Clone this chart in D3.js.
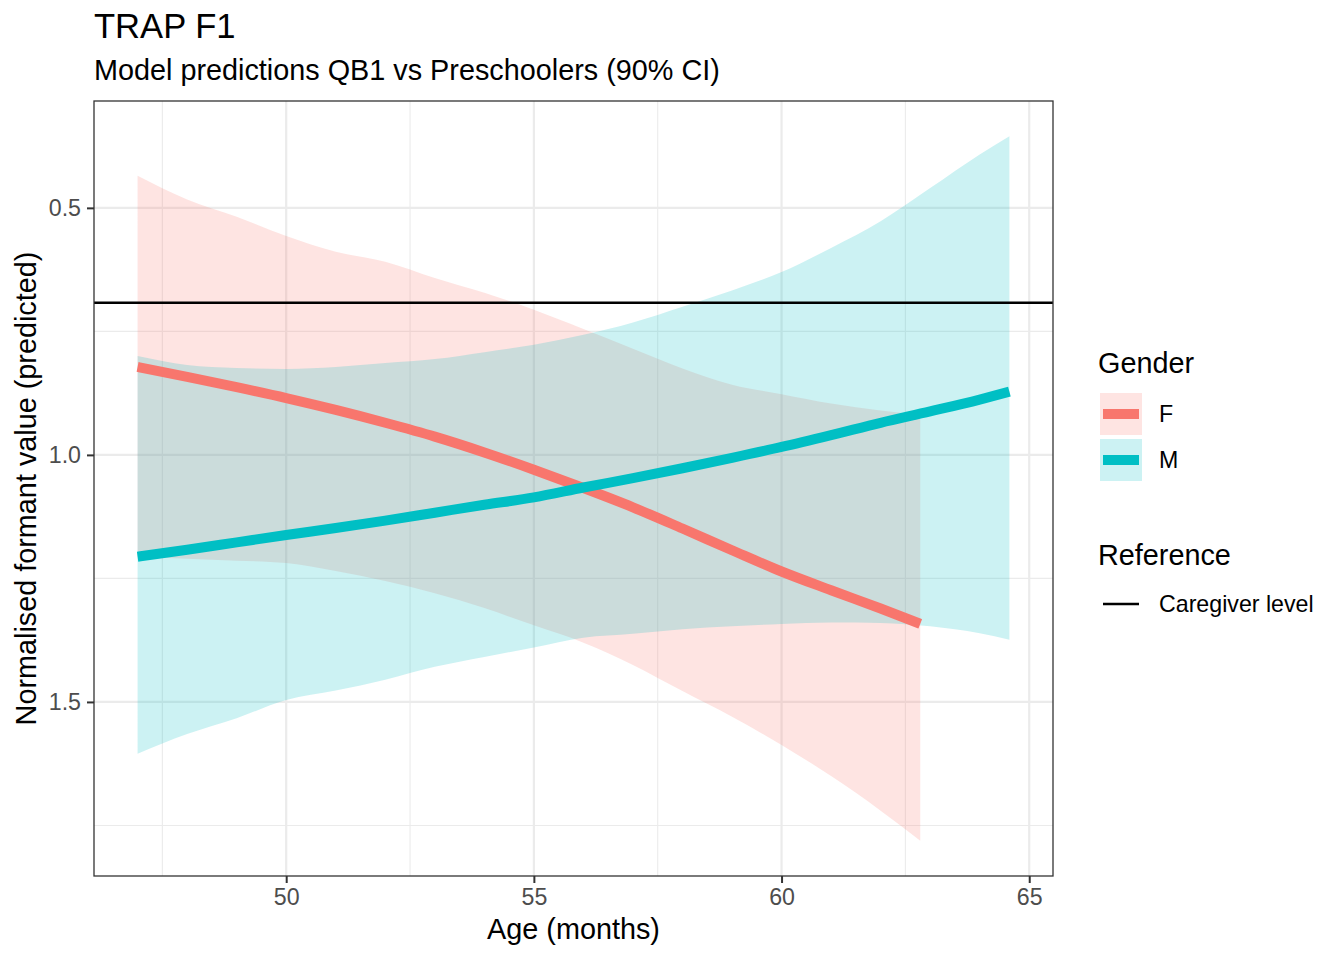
<!DOCTYPE html>
<html>
<head>
<meta charset="utf-8">
<script src="https://cdn.jsdelivr.net/npm/d3@7"></script>
<style>
  body { margin: 0; background: #fff; }
  text { font-family: "Liberation Sans", Arial, sans-serif; }
</style>
</head>
<body>
<script>
// values
const ageF  = [47, 48, 49, 50, 51, 52, 53, 54, 55, 56, 57, 58, 59, 60, 61, 62, 62.8]
const fitF  = [0.822, 0.842, 0.863, 0.885, 0.909, 0.935, 0.963, 0.995, 1.03, 1.067, 1.106, 1.149, 1.193, 1.236, 1.274, 1.311, 1.342]
const lowF  = [0.435, 0.483, 0.518, 0.557, 0.589, 0.609, 0.642, 0.672, 0.706, 0.745, 0.785, 0.825, 0.858, 0.877, 0.896, 0.91, 0.919]
const highF = [1.206, 1.21, 1.214, 1.219, 1.235, 1.255, 1.28, 1.31, 1.345, 1.38, 1.425, 1.478, 1.53, 1.587, 1.65, 1.72, 1.781]

const ageM  = [47, 48, 49, 50, 51, 52, 53, 54, 55, 56, 57, 58, 59, 60, 61, 62, 63, 64, 64.6]
const fitM  = [1.206, 1.192, 1.177, 1.162, 1.148, 1.133, 1.117, 1.101, 1.086, 1.066, 1.047, 1.027, 1.006, 0.984, 0.96, 0.935, 0.912, 0.888, 0.872]
const lowM  = [0.80, 0.818, 0.824, 0.826, 0.822, 0.814, 0.806, 0.792, 0.777, 0.757, 0.732, 0.70, 0.667, 0.63, 0.581, 0.527, 0.46, 0.392, 0.355]
const highM = [1.605, 1.565, 1.533, 1.496, 1.477, 1.455, 1.429, 1.409, 1.39, 1.37, 1.362, 1.353, 1.347, 1.342, 1.339, 1.34, 1.347, 1.361, 1.374]

const caregiverLevel = 0.692
const xTicks = [50, 55, 60, 65]
const xMinor = [47.5, 52.5, 57.5, 62.5]
const yTicks = [0.5, 1.0, 1.5]
const yMinor = [0.75, 1.25, 1.75]

const genders = ["F", "M"]
const colours = { F: "#F8766D", M: "#00BFC4" }

const width = 1344, height = 960
const margin = { left: 94, right: 291, top: 101, bottom: 84 }
const baseSize = 28.8, smallSize = 23.2

const svg = d3.select("body").append("svg").attr("width", width).attr("height", height)

function make_series(ages, fit, low, high) {
    return ages.map((a, i) => ({ age: a, fit: fit[i], low: low[i], high: high[i] }))
}
const series = {
    F: make_series(ageF, fitF, lowF, highF),
    M: make_series(ageM, fitM, lowM, highM)
}

// ggplot style 5% expansion
function expand(ext) {
    const d = (ext[1] - ext[0]) * 0.05
    return [ext[0] - d, ext[1] + d]
}
const allAges = ageF.concat(ageM)
const allY = lowF.concat(highF, lowM, highM, [caregiverLevel])

const x = d3.scaleLinear().domain(expand(d3.extent(allAges))).range([margin.left, width - margin.right])
const y = d3.scaleLinear().domain(expand(d3.extent(allY))).range([margin.top, height - margin.bottom])

const pl = margin.left, pr = width - margin.right, pt = margin.top, pb = height - margin.bottom

// grid
const grid = svg.append("g")
grid.selectAll(".xmin").data(xMinor).enter().append("line")
    .attr("x1", d => x(d)).attr("x2", d => x(d)).attr("y1", pt).attr("y2", pb)
    .attr("stroke", "#EBEBEB").attr("stroke-width", 1.1)
grid.selectAll(".ymin").data(yMinor).enter().append("line")
    .attr("y1", d => y(d)).attr("y2", d => y(d)).attr("x1", pl).attr("x2", pr)
    .attr("stroke", "#EBEBEB").attr("stroke-width", 1.1)
grid.selectAll(".xmaj").data(xTicks).enter().append("line")
    .attr("x1", d => x(d)).attr("x2", d => x(d)).attr("y1", pt).attr("y2", pb)
    .attr("stroke", "#EBEBEB").attr("stroke-width", 2.2)
grid.selectAll(".ymaj").data(yTicks).enter().append("line")
    .attr("y1", d => y(d)).attr("y2", d => y(d)).attr("x1", pl).attr("x2", pr)
    .attr("stroke", "#EBEBEB").attr("stroke-width", 2.2)

// ribbons
const area = d3.area().curve(d3.curveMonotoneX)
    .x(d => x(d.age)).y0(d => y(d.low)).y1(d => y(d.high))
genders.forEach(g => {
    svg.append("path").datum(series[g])
        .attr("d", area)
        .attr("fill", colours[g]).attr("fill-opacity", 0.2)
})

// caregiver reference line
svg.append("line")
    .attr("x1", pl).attr("x2", pr)
    .attr("y1", y(caregiverLevel)).attr("y2", y(caregiverLevel))
    .attr("stroke", "#000").attr("stroke-width", 2.4)

// fitted lines
const line = d3.line().curve(d3.curveMonotoneX).x(d => x(d.age)).y(d => y(d.fit))
genders.forEach(g => {
    svg.append("path").datum(series[g])
        .attr("d", line)
        .attr("fill", "none").attr("stroke", colours[g]).attr("stroke-width", 10)
})

// panel border
svg.append("rect").attr("x", pl).attr("y", pt).attr("width", pr - pl).attr("height", pb - pt)
    .attr("fill", "none").attr("stroke", "#333333").attr("stroke-width", 1.3)

// axes
const xAxis = svg.append("g").attr("transform", `translate(0,${pb})`)
    .call(d3.axisBottom(x).tickValues(xTicks).tickSize(7).tickPadding(6).tickFormat(d3.format("d")))
const yAxis = svg.append("g").attr("transform", `translate(${pl},0)`)
    .call(d3.axisLeft(y).tickValues(yTicks).tickSize(7).tickPadding(6).tickFormat(d3.format(".1f")))
;[xAxis, yAxis].forEach(a => {
    a.select(".domain").remove()
    a.selectAll(".tick line").attr("stroke", "#333333").attr("stroke-width", 2)
    a.selectAll(".tick text").attr("fill", "#4D4D4D").style("font-size", smallSize + "px")
        .style("font-family", "'Liberation Sans', Arial, sans-serif")
})

// titles
svg.append("text").attr("x", pl).attr("y", 38).text("TRAP F1")
    .style("font-size", "34.6px").attr("fill", "#000")
svg.append("text").attr("x", pl).attr("y", 80).text("Model predictions QB1 vs Preschoolers (90% CI)")
    .style("font-size", baseSize + "px").attr("fill", "#000")
svg.append("text").attr("x", (pl + pr) / 2).attr("y", 939).attr("text-anchor", "middle")
    .text("Age (months)").style("font-size", baseSize + "px")
svg.append("text").attr("transform", `translate(36,${(pt + pb) / 2}) rotate(-90)`)
    .attr("text-anchor", "middle").text("Normalised formant value (predicted)").style("font-size", baseSize + "px")

// legend
const lg = svg.append("g")
lg.append("text").attr("x", 1098).attr("y", 373).text("Gender").style("font-size", baseSize + "px")
genders.forEach((g, i) => {
    const top = 393 + i * 46
    lg.append("rect").attr("x", 1100).attr("y", top).attr("width", 42).attr("height", 42)
        .attr("fill", colours[g]).attr("fill-opacity", 0.2)
    lg.append("line").attr("x1", 1103).attr("x2", 1139).attr("y1", top + 21).attr("y2", top + 21)
        .attr("stroke", colours[g]).attr("stroke-width", 10)
    lg.append("text").attr("x", 1159).attr("y", top + 29).text(g).style("font-size", smallSize + "px")
})
lg.append("text").attr("x", 1098).attr("y", 565).text("Reference").style("font-size", baseSize + "px")
lg.append("line").attr("x1", 1103).attr("x2", 1139).attr("y1", 604).attr("y2", 604)
    .attr("stroke", "#000").attr("stroke-width", 2.4)
lg.append("text").attr("x", 1159).attr("y", 612).text("Caregiver level").style("font-size", smallSize + "px")
</script>
</body>
</html>
